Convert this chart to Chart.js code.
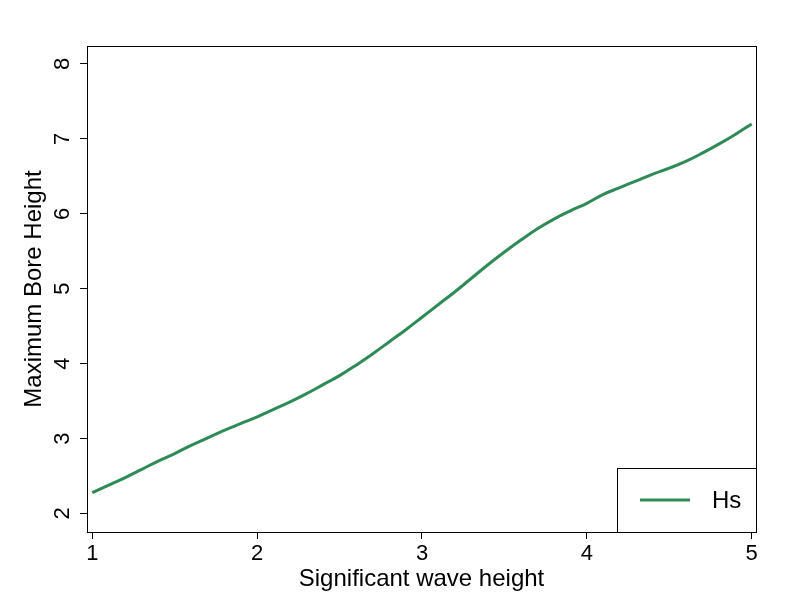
<!DOCTYPE html>
<html>
<head>
<meta charset="utf-8">
<script src="https://cdn.jsdelivr.net/npm/chart.js@4"></script>
<style>
  html, body { margin: 0; padding: 0; background: #fff; }
  #wrap { width: 800px; height: 600px; }
</style>
</head>
<body>
<div id="wrap"><canvas id="c" width="800" height="600"></canvas></div>
<script>
const seriesLabel = "Hs";
const waveHeight = [1.0,1.1,1.2,1.3,1.4,1.5,1.6,1.7,1.8,1.9,2.0,2.1,2.2,2.3,2.4,2.5,2.6,2.7,2.8,2.9,3.0,3.1,3.2,3.3,3.4,3.5,3.6,3.7,3.8,3.9,4.0,4.1,4.2,4.3,4.4,4.5,4.6,4.7,4.8,4.9,5.0];
const boreHeight = [2.28,2.38,2.48,2.59,2.70,2.80,2.91,3.01,3.11,3.20,3.29,3.39,3.49,3.60,3.72,3.84,3.98,4.13,4.29,4.45,4.62,4.79,4.96,5.14,5.32,5.49,5.65,5.80,5.93,6.04,6.14,6.26,6.35,6.44,6.53,6.61,6.70,6.81,6.93,7.06,7.20];
const xTitle = "Significant wave height";
const yTitle = "Maximum Bore Height";

const FONT = "'Liberation Sans', Arial, sans-serif";

const boxPlugin = {
  id: 'boxPlugin',
  afterDraw(chart) {
    const {ctx, chartArea: a} = chart;
    ctx.save();
    ctx.strokeStyle = '#000';
    ctx.lineWidth = 1;
    ctx.strokeRect(Math.round(a.left) + 0.5, Math.round(a.top) + 0.5, Math.round(a.right - a.left), Math.round(a.bottom - a.top));
    // legend box inside plot, lower right
    const ds = chart.data.datasets[0];
    const bw = 139, bh = 64;
    const bx = Math.round(a.right) - bw, by = Math.round(a.bottom) - bh;
    ctx.fillStyle = '#fff';
    ctx.fillRect(bx, by, bw, bh);
    ctx.strokeRect(bx + 0.5, by + 0.5, bw, bh);
    ctx.strokeStyle = ds.borderColor;
    ctx.lineWidth = 3;
    ctx.beginPath();
    ctx.moveTo(bx + 23, by + 32);
    ctx.lineTo(bx + 73, by + 32);
    ctx.stroke();
    ctx.fillStyle = '#000';
    ctx.font = "24px " + FONT;
    ctx.textBaseline = 'middle';
    ctx.textAlign = 'left';
    ctx.fillText(ds.label, bx + 95, by + 33);
    ctx.restore();
  }
};

new Chart(document.getElementById('c'), {
  type: 'line',
  data: {
    datasets: [{
      label: seriesLabel,
      data: waveHeight.map((x, i) => ({x: x, y: boreHeight[i]})),
      borderColor: '#2e8b57',
      backgroundColor: '#2e8b57',
      borderWidth: 3,
      pointRadius: 0,
      tension: 0.4,
      fill: false
    }]
  },
  options: {
    responsive: false,
    animation: false,
    devicePixelRatio: 1,
    layout: { padding: { top: 46, right: 44, left: 0, bottom: 0 } },
    plugins: { legend: { display: false }, tooltip: { enabled: false } },
    scales: {
      x: {
        type: 'linear',
        min: 0.968,
        max: 5.026,
        afterFit(s) { s.height = 68; },
        border: { display: true, color: '#000', width: 1 },
        grid: { display: true, drawOnChartArea: false, drawTicks: true, tickLength: 7, color: '#000' },
        ticks: { stepSize: 1, includeBounds: false, color: '#000', font: { family: FONT, size: 22 }, padding: 2, maxRotation: 0 },
        title: { display: true, text: xTitle, color: '#000', font: { family: FONT, size: 24 }, padding: { top: 0, bottom: 6.6 } }
      },
      y: {
        type: 'linear',
        min: 1.753,
        max: 8.24,
        afterFit(s) { s.width = 87; },
        border: { display: true, color: '#000', width: 1 },
        grid: { display: true, drawOnChartArea: false, drawTicks: true, tickLength: 7, color: '#000' },
        ticks: { stepSize: 1, includeBounds: false, color: '#000', font: { family: FONT, size: 22 }, padding: 11, minRotation: 90, maxRotation: 90, crossAlign: 'center' },
        title: { display: true, text: yTitle, color: '#000', font: { family: FONT, size: 24 }, padding: { top: 19.6, bottom: 0 } }
      }
    }
  },
  plugins: [boxPlugin]
});
</script>
</body>
</html>
